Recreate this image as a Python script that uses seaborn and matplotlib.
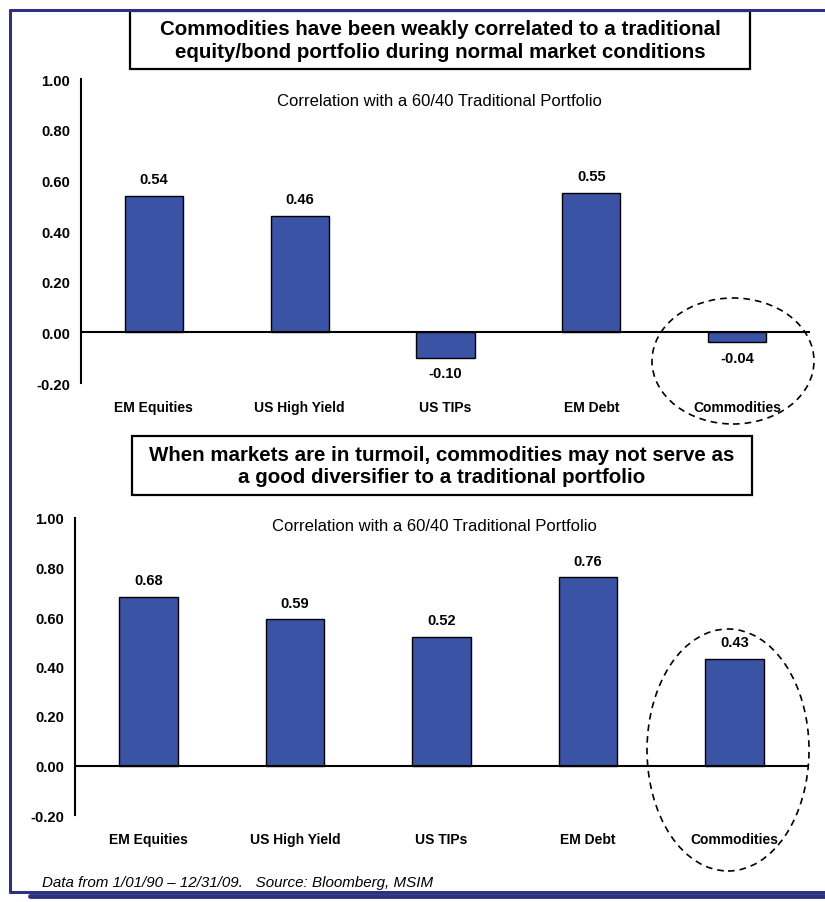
import matplotlib
matplotlib.use("Agg")
import matplotlib.pyplot as plt
from matplotlib.patches import Ellipse, Rectangle
from matplotlib.lines import Line2D
import seaborn as sns
import pandas as pd

# Asset classes and their correlation with a 60/40 portfolio
categories = ["EM Equities", "US High Yield", "US TIPs", "EM Debt", "Commodities"]
corr_normal = [0.54, 0.46, -0.10, 0.55, -0.04]
corr_turmoil = [0.68, 0.59, 0.52, 0.76, 0.43]
y_ticks = [-0.20, 0.00, 0.20, 0.40, 0.60, 0.80, 1.00]

title_normal = ("Commodities have been weakly correlated to a traditional\n"
                "equity/bond portfolio during normal market conditions")
title_turmoil = ("When markets are in turmoil, commodities may not serve as\n"
                 "a good diversifier to a traditional portfolio")
subtitle = "Correlation with a 60/40 Traditional Portfolio"
footnote = "Data from 1/01/90 \u2013 12/31/09.   Source: Bloomberg, MSIM"

sns.set_theme(style="white")
plt.rcParams["font.family"] = ["Liberation Sans", "DejaVu Sans"]
plt.rcParams["text.color"] = "black"
plt.rcParams["xtick.color"] = "black"
plt.rcParams["ytick.color"] = "black"

W, H = 825, 903
fig = plt.figure(figsize=(W / 100, H / 100), dpi=100)

BAR = "#3A53A4"
NAVY = "#2E3180"


def px_axes(left, right, top, bottom):
    return fig.add_axes([left / W, 1 - bottom / H, (right - left) / W, (bottom - top) / H])


def fig_pt(x, y):
    return x / W, 1 - y / H


def draw_panel(ax, values):
    df = pd.DataFrame({"cat": categories, "val": values})
    sns.barplot(data=df, x="cat", y="val", ax=ax, color=BAR, width=0.40,
                saturation=1, edgecolor="black", linewidth=1.0)
    ax.set_xlim(-0.5, len(categories) - 0.5)
    ax.set_ylim(-0.2, 1.0)
    ax.set_yticks(y_ticks)
    ax.set_yticklabels([f"{t:.2f}" for t in y_ticks], fontsize=10.7, fontweight="bold")
    ax.set_xticks(range(len(categories)))
    ax.set_xticklabels(categories, fontsize=10, fontweight="bold")
    ax.tick_params(axis="x", length=0, pad=12)
    ax.tick_params(axis="y", length=0, pad=8)
    ax.set_xlabel("")
    ax.set_ylabel("")
    for s in ("top", "right", "bottom"):
        ax.spines[s].set_visible(False)
    ax.spines["left"].set_color("black")
    ax.spines["left"].set_linewidth(1.5)
    ax.axhline(0, color="black", lw=1.5, zorder=3)
    ax.patch.set_alpha(0)
    for i, v in enumerate(values):
        if v >= 0:
            ax.annotate(f"{v:.2f}", (i, v), xytext=(0, 7), textcoords="offset points",
                        ha="center", va="bottom", fontsize=10.5, fontweight="bold")
        else:
            ax.annotate(f"{v:.2f}", (i, v), xytext=(0, -6), textcoords="offset points",
                        ha="center", va="top", fontsize=10.5, fontweight="bold")


ax1 = px_axes(81, 810, 80, 384)
draw_panel(ax1, corr_normal)
ax2 = px_axes(75, 808, 519, 816)
draw_panel(ax2, corr_turmoil)

# Panel subtitles
for (sx, sy) in [(439, 101), (434, 527)]:
    fig.text(*fig_pt(sx, sy), subtitle, ha="center", va="center", fontsize=12)


def title_box(x0, x1, y0, y1, text):
    r = Rectangle(fig_pt(x0, y1), (x1 - x0) / W, (y1 - y0) / H, transform=fig.transFigure,
                  facecolor="white", edgecolor="black", lw=1.6, zorder=5)
    fig.add_artist(r)
    cx, cy = fig_pt((x0 + x1) / 2, (y0 + y1) / 2)
    fig.text(cx, cy, text, ha="center", va="center", fontsize=14.8, fontweight="bold",
             linespacing=1.25, zorder=6)


title_box(130, 750, 12, 70, title_normal)
title_box(132, 752, 437, 496, title_turmoil)

# Dashed ellipses highlighting commodities
for (cx, cy, w, h) in [(733, 362, 162, 126), (728, 751, 162, 242)]:
    e = Ellipse(fig_pt(cx, cy), w / W, h / H, transform=fig.transFigure,
                fill=False, edgecolor="black", lw=1.2, linestyle=(0, (4, 3)), zorder=7)
    fig.add_artist(e)

# Page frame with shadow
for (xa, ya, xb, yb, lw) in [(10, 11, 825, 11, 2.2), (10, 11, 10, 893, 2.2),
                              (10, 893, 825, 893, 2.2), (30, 897, 825, 897, 3.5)]:
    fig.add_artist(Line2D([xa / W, xb / W], [1 - ya / H, 1 - yb / H],
                          transform=fig.transFigure, color=NAVY, lw=lw, zorder=8))

fig.text(42 / W, 1 - 883 / H, footnote, ha="left", va="center", fontsize=10.9, style="italic")

fig.savefig("out.png", dpi=100)
